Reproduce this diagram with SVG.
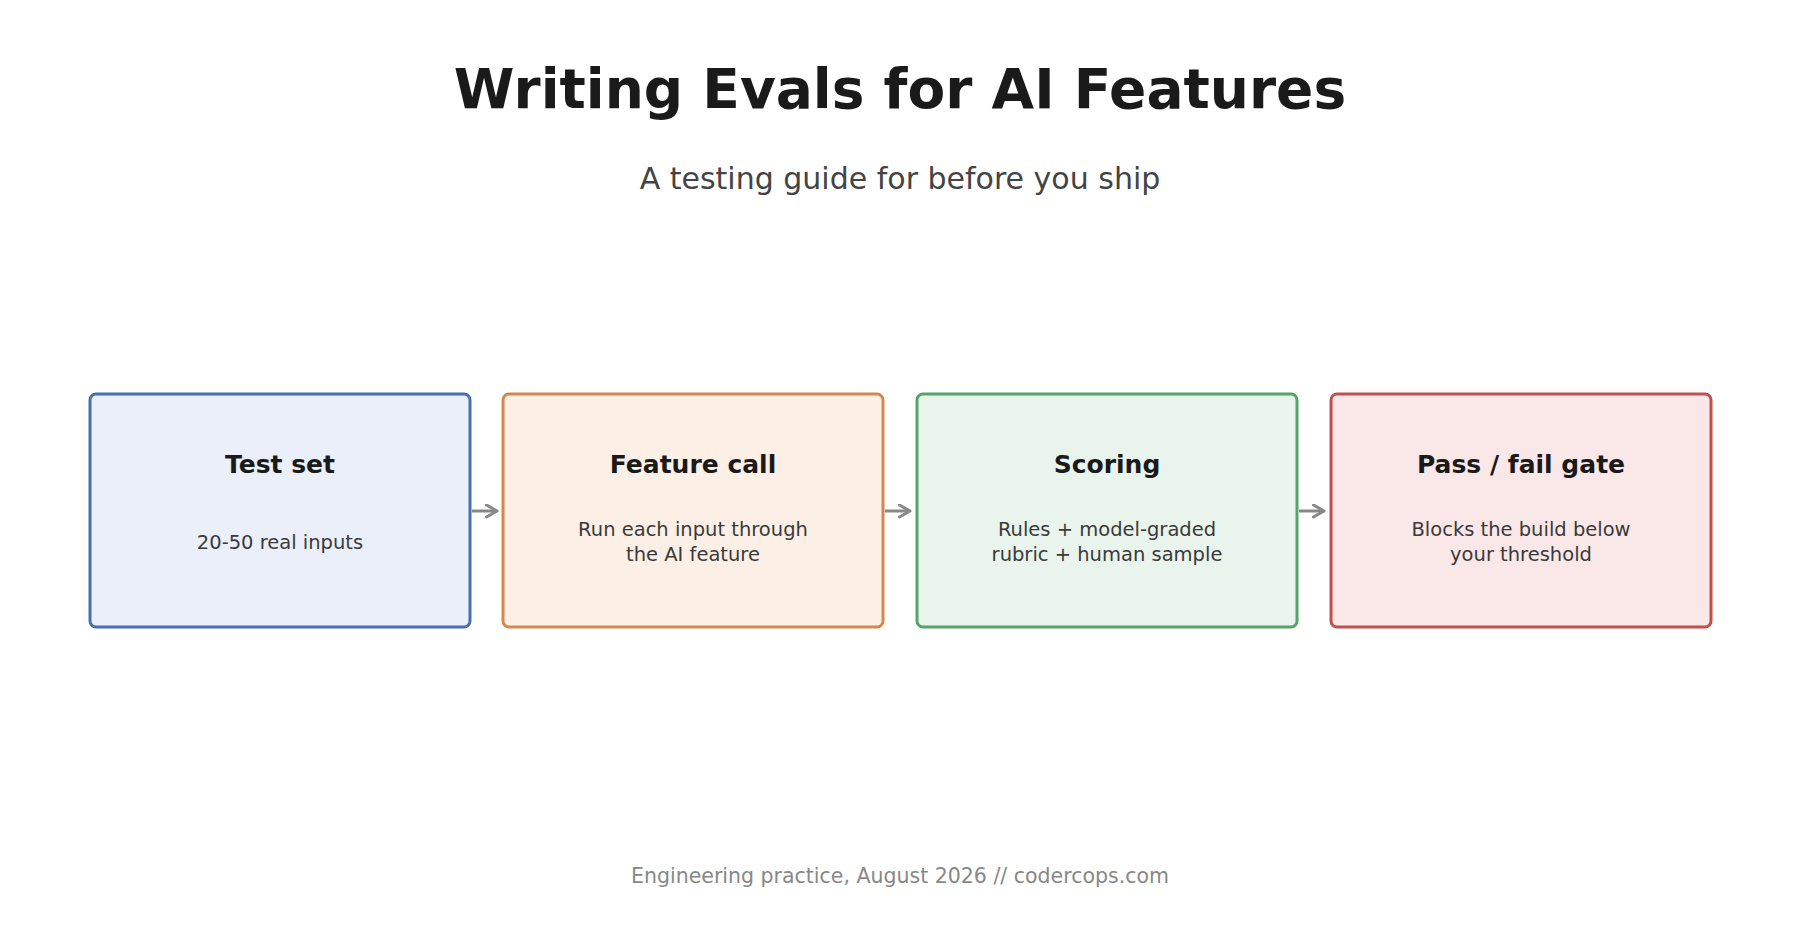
<svg xmlns="http://www.w3.org/2000/svg" width="1800" height="945" viewBox="0 0 1800 945">
<style>
text{font-family:"DejaVu Sans","Noto Sans",sans-serif;text-anchor:middle}
.t{font-size:25px;font-weight:bold;fill:#1a1a1a}
.d{font-size:19.5px;fill:#3a3a3a}
.b{stroke-width:3}
</style>
<defs><marker id="a" viewBox="0 0 10 10" refX="8" refY="5" markerWidth="5" markerHeight="5" orient="auto"><path d="M1,1 L8,5 L1,9" fill="none" stroke="#888" stroke-width="2" stroke-linecap="round" stroke-linejoin="round"/></marker></defs>
<rect width="1800" height="945" fill="#fff"/>
<text x="900" y="108" font-size="55" font-weight="bold" fill="#1a1a1a">Writing Evals for AI Features</text>
<text x="900" y="189" font-size="30" fill="#444">A testing guide for before you ship</text>
<g id="n1"><rect class="b" x="90" y="394" width="380" height="233" rx="6" fill="#eaeff9" stroke="#4a6fb0"/><text class="t" x="280" y="473">Test set</text><text class="d" x="280" y="549">20-50 real inputs</text></g>
<g id="n2"><rect class="b" x="503" y="394" width="380" height="233" rx="6" fill="#fcf0e6" stroke="#d4884f"/><text class="t" x="693" y="473">Feature call</text><text class="d" x="693" y="536">Run each input through</text><text class="d" x="693" y="561">the AI feature</text></g>
<g id="n3"><rect class="b" x="917" y="394" width="380" height="233" rx="6" fill="#e9f4ec" stroke="#56a468"/><text class="t" x="1107" y="473">Scoring</text><text class="d" x="1107" y="536">Rules + model-graded</text><text class="d" x="1107" y="561">rubric + human sample</text></g>
<g id="n4"><rect class="b" x="1331" y="394" width="380" height="233" rx="6" fill="#fae7e8" stroke="#c0504d"/><text class="t" x="1521" y="473">Pass / fail gate</text><text class="d" x="1521" y="536">Blocks the build below</text><text class="d" x="1521" y="561">your threshold</text></g>
<g id="edges" stroke="#888" stroke-width="3" marker-end="url(#a)">
<line x1="472" y1="511" x2="497" y2="511"/><line x1="885" y1="511" x2="910" y2="511"/><line x1="1299" y1="511" x2="1324" y2="511"/>
</g>
<text x="900" y="883" font-size="20.5" fill="#888">Engineering practice, August 2026  //  codercops.com</text>
</svg>
